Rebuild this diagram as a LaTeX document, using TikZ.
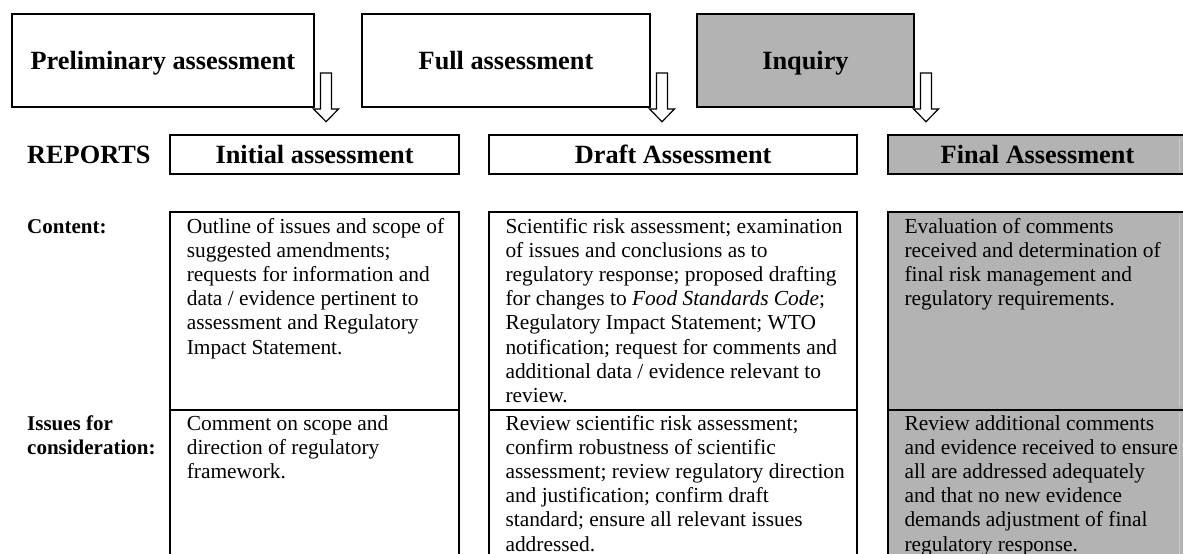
\documentclass[tikz,border=0pt]{standalone}
\usepackage{fontspec}
\setmainfont{Liberation Serif}
\usetikzlibrary{positioning}

\definecolor{boxgray}{RGB}{179,179,179}
\definecolor{faintgray}{RGB}{204,204,204}

\newcommand\headfont{\fontsize{26.3}{30}\selectfont\bfseries}
\newcommand\labelfont{\fontsize{21}{24.2}\selectfont\bfseries}
\newcommand\bodyfont{\fontsize{21.4}{24.2}\selectfont}
\newcommand\celltext[1]{\begin{tabular}[t]{@{}l@{}}#1\end{tabular}}

\tikzset{
  stagebox/.style={draw, line width=2pt, inner sep=0pt, outer sep=0pt, minimum height=93pt,
    font=\headfont, text height=17.4pt, text depth=0pt},
  reportbox/.style={stagebox, minimum height=39pt},
  cellbox/.style={draw, line width=2pt, inner sep=0pt, outer sep=0pt},
  shaded/.style={fill=boxgray},
  bodytext/.style={anchor=base west, inner sep=0pt, font=\bodyfont},
  rowlabel/.style={anchor=base west, inner sep=0pt, font=\labelfont},
  faintline/.style={draw=faintgray, line width=1pt},
  hollowarrow/.pic={
    \draw[line width=1.2pt, fill=white] (-5.5,-34) -- (5.5,-34) -- (5.5,2) -- (12.5,2)
      -- (0,14.7) -- (-12.5,2) -- (-5.5,2) -- cycle;
  }
}

\begin{document}
\begin{tikzpicture}[x=1pt,y=-1pt]
    \path[use as bounding box, clip] (0,0) rectangle (1183,554);

    % stages
    \node[stagebox, minimum width=302.3pt] (prelim) at (162.9,60.5) {Preliminary assessment};
    \node[stagebox, minimum width=288pt] (full) at (506,60.5) {Full assessment};
    \node[stagebox, shaded, minimum width=217pt] (inquiry) at (805.5,60.5) {Inquiry};

    % reports
    \node[rowlabel, font=\headfont] (reports) at (27,163) {REPORTS};
    \node[reportbox, minimum width=288.6pt] (initial) at (314.6,154.5) {Initial assessment};
    \node[reportbox, minimum width=368.4pt] (draft) at (673.2,154.5) {Draft Assessment};
    \node[reportbox, shaded, minimum width=299pt] (final) at (1037.5,154.5) {Final Assessment};

    \pic at ([xshift=12pt]prelim.south east) {hollowarrow};
    \pic at ([xshift=12pt]full.south east) {hollowarrow};
    \pic at ([xshift=12pt]inquiry.south east) {hollowarrow};

    % table cells
    \node[cellbox, minimum width=288.6pt, minimum height=198.3pt, below=37.7pt of initial] (initcontent) {};
    \node[cellbox, minimum width=288.6pt, minimum height=200pt, below=0pt of initcontent] (initissues) {};
    \node[cellbox, minimum width=368.4pt, minimum height=198.3pt, below=37.7pt of draft] (draftcontent) {};
    \node[cellbox, minimum width=368.4pt, minimum height=200pt, below=0pt of draftcontent] (draftissues) {};
    \node[cellbox, shaded, minimum width=299pt, minimum height=198.3pt, below=37.7pt of final] (finalcontent) {};
    \node[cellbox, shaded, minimum width=299pt, minimum height=200pt, below=0pt of finalcontent] (finalissues) {};

    \foreach \cell in {final, finalcontent, finalissues}
        \draw[faintline] ([xshift=-8pt,yshift=-3pt]\cell.north east) -- ([xshift=-8pt,yshift=3pt]\cell.south east);

    % row labels
    \node[rowlabel] (contentlabel) at (27,233) {Content:};
    \node[rowlabel] (issueslabel) at (27,430) {\celltext{Issues for\\consideration:}};

    % cell texts
    \node[bodytext] (initcontenttext) at ([xshift=16.3pt,yshift=-21.3pt]initcontent.north west)
        {\celltext{Outline of issues and scope of\\suggested amendments;\\requests for information and\\
        data / evidence pertinent to\\assessment and Regulatory\\Impact Statement.}};
    \node[bodytext] (draftcontenttext) at ([xshift=16.3pt,yshift=-21.3pt]draftcontent.north west)
        {\celltext{Scientific risk assessment; examination\\of issues and conclusions as to\\
        regulatory response; proposed drafting\\for changes to \textit{Food Standards Code};\\
        Regulatory Impact Statement; WTO\\notification; request for comments and\\
        additional data / evidence relevant to\\review.}};
    \node[bodytext] (finalcontenttext) at ([xshift=16.3pt,yshift=-21.3pt]finalcontent.north west)
        {\celltext{Evaluation of comments\\received and determination of\\final risk management and\\
        regulatory requirements.}};
    \node[bodytext] (initissuestext) at ([xshift=16.3pt,yshift=-20pt]initissues.north west)
        {\celltext{Comment on scope and\\direction of regulatory\\framework.}};
    \node[bodytext] (draftissuestext) at ([xshift=16.3pt,yshift=-20pt]draftissues.north west)
        {\celltext{Review scientific risk assessment;\\confirm robustness of scientific\\
        assessment; review regulatory direction\\and justification; confirm draft\\
        standard; ensure all relevant issues\\addressed.}};
    \node[bodytext] (finalissuestext) at ([xshift=16.3pt,yshift=-20pt]finalissues.north west)
        {\celltext{Review additional comments\\and evidence received to ensure\\all are addressed adequately\\
        and that no new evidence\\demands adjustment of final\\regulatory response.}};
\end{tikzpicture}
\end{document}
